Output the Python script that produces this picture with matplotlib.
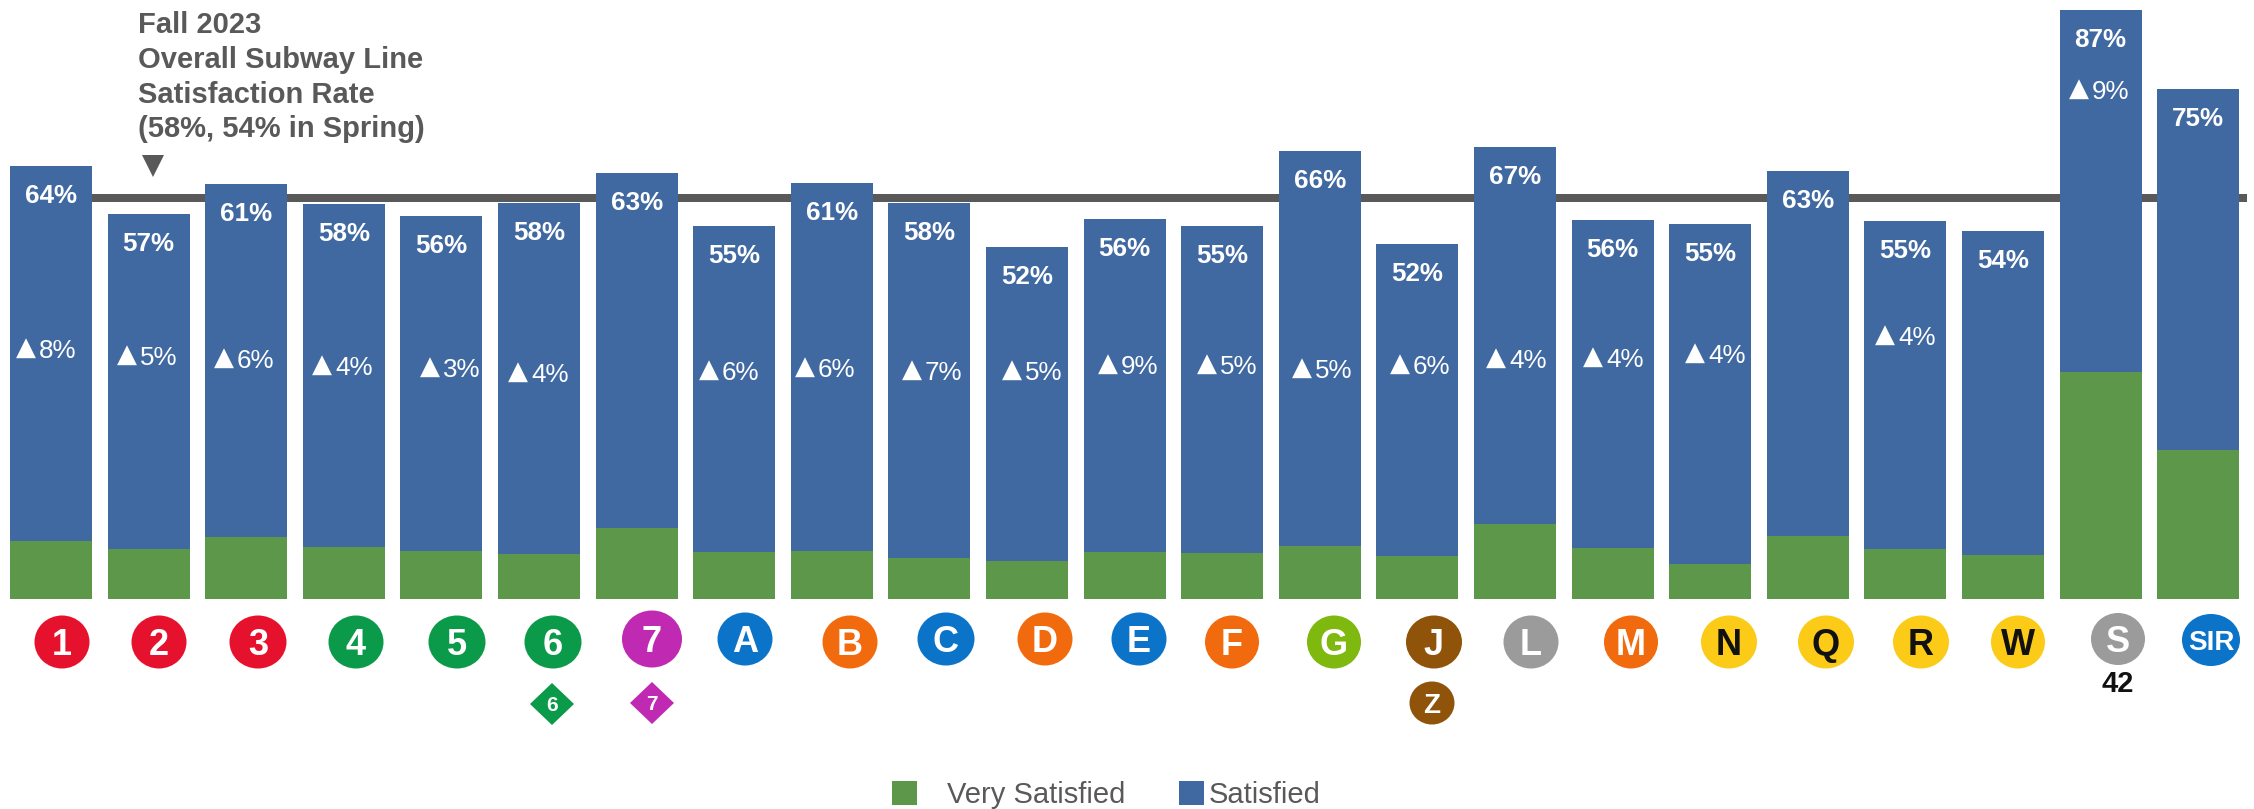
import matplotlib
matplotlib.use("Agg")
import matplotlib.pyplot as plt
from matplotlib.patches import Ellipse, Polygon
import numpy as np

plt.rcParams['font.family'] = ['Liberation Sans', 'DejaVu Sans']

# ---- data ----
lines = ['1','2','3','4','5','6','7','A','B','C','D','E','F','G','J','L','M','N','Q','R','W','S','SIR']
very_satisfied = [8.6,7.4,9.2,7.7,7.1,6.6,10.5,6.9,7.1,6.1,5.6,6.9,6.8,7.8,6.4,11.1,7.5,5.2,9.3,7.4,6.5,33.5,22.0]
total_height = [64.0,56.9,61.3,58.3,56.6,58.5,62.9,55.1,61.5,58.5,52.0,56.2,55.1,66.2,52.4,66.8,56.0,55.4,63.2,55.8,54.3,87.0,75.3]
satisfied = [round(t - v, 1) for t, v in zip(total_height, very_satisfied)]
total_labels = ['64%','57%','61%','58%','56%','58%','63%','55%','61%','58%','52%','56%','55%','66%','52%','67%','56%','55%','63%','55%','54%','87%','75%']
delta_labels = ['8%','5%','6%','4%','3%','4%',None,'6%','6%','7%','5%','9%','5%','5%','6%','4%','4%','4%',None,'4%',None,'9%',None]
overall_rate = 59.2
title_lines = ['Fall 2023', 'Overall Subway Line', 'Satisfaction Rate', '(58%, 54% in Spring)']

# ---- layout (pixels of the 2254x809 canvas) ----
W, H = 2254, 809
delta_x = [46,147,244,342,450,538,None,729,825,932,1032,1128,1227,1322,1420,1516,1613,1715,None,1905,None,2099,None]
delta_y = [349,356,359,366,368,373,None,371,368,371,371,365,365,369,365,359,358,354,None,336,None,90,None]
icon_x = [62,159,258,356,457,553,652,745,850,946,1045,1139,1232,1334,1434,1531,1631,1729,1826,1921,2018,2118,2211]
icon_y = [642,642,642,642,642,642,639,639,642,639,639,639,642,642,642,642,642,642,642,642,642,639,640]
icon_w = [55,55,57,55,57,57,60,55,55,57,55,55,54,54,56,55,54,56,56,56,54,54,58]
icon_h = [53,53,53,53,53,53,57,53,53,53,53,53,53,53,53,53,53,53,53,53,53,52,52]
RED, GRN, PUR, BLU, ORG, LIM, BRN, GRY, YEL = '#E6122D','#0A9A49','#C02AB2','#0B74C9','#F26A0E','#7FB80E','#8F5409','#9B9B9B','#FBCB17'
icon_col = [RED,RED,RED,GRN,GRN,GRN,PUR,BLU,ORG,BLU,ORG,BLU,ORG,LIM,BRN,GRY,ORG,YEL,YEL,YEL,YEL,GRY,BLU]
icon_txt = ['w']*17 + ['#111111']*4 + ['w','w']

BLUE, GREEN, GREY = '#4069A2', '#5D9749', '#595959'

fig = plt.figure(figsize=(W/100, H/100), dpi=100, facecolor='white')

# main chart axes: 97.6 px per category, 6.77 px per percent, baseline at y=599
ax = fig.add_axes([0, 0, 1, 1])
PX_X, X0, PX_Y, Y0 = 97.6, 51, 6.77, 599
ax.set_xlim((0 - X0)/PX_X, (W - X0)/PX_X)
ax.set_ylim((Y0 - H)/PX_Y, Y0/PX_Y)
ax.axis('off')

x = np.arange(len(lines))
ax.plot([-0.42, 22.5], [overall_rate]*2, color=GREY, lw=8*0.72, solid_capstyle='butt', zorder=1)
b1 = ax.bar(x, very_satisfied, width=0.84, color=GREEN, label='Very Satisfied', zorder=2)
b2 = ax.bar(x, satisfied, width=0.84, bottom=very_satisfied, color=BLUE, label='Satisfied', zorder=2)

for xi, t, lab in zip(x, total_height, total_labels):
    ax.annotate(lab, (xi, t), xytext=(0, -37), textcoords='offset pixels', ha='center', va='baseline',
                color='white', fontsize=18.7, fontweight='bold', zorder=3)

# legends, one per entry because their gaps differ
leg1 = ax.legend(handles=[b1], loc='center left', bbox_to_anchor=(892/W, 1 - 795/H), frameon=False,
                 fontsize=21, borderpad=0, borderaxespad=0, handlelength=0.86, handleheight=0.86,
                 handletextpad=1.03, labelcolor=GREY)
ax.add_artist(leg1)
ax.legend(handles=[b2], loc='center left', bbox_to_anchor=(1179/W, 1 - 795/H), frameon=False,
          fontsize=21, borderpad=0, borderaxespad=0, handlelength=0.86, handleheight=0.86,
          handletextpad=0.16, labelcolor=GREY)

# overlay in canvas pixels for annotations and line bullets
ov = fig.add_axes([0, 0, 1, 1], facecolor='none')
ov.set_xlim(0, W); ov.set_ylim(H, 0); ov.axis('off')

for dx, dy, lab in zip(delta_x, delta_y, delta_labels):
    if lab is not None:
        ov.text(dx - 7, dy + 9, lab, ha='left', va='baseline', color='white', fontsize=18.7, zorder=3)
        ov.text(dx - 10, dy + 6, '\u25B2', ha='right', va='baseline', color='white', fontsize=18.7,
                family='DejaVu Sans', zorder=3)

for ty, line in zip([23, 58, 93, 127], title_lines):
    ov.text(137.5, ty + 10, line, ha='left', va='baseline', color=GREY, fontsize=21, fontweight='bold')
ov.plot([153], [166], marker='v', ms=16, color=GREY, mew=0)

def bullet_text(cx, cy, s, col, size, weight='bold'):
    ov.text(cx, cy + size*100/72*0.358, s, ha='center', va='baseline', color=col, fontsize=size, fontweight=weight, zorder=6)

for name, cx, cy, w, h, c, tc in zip(lines, icon_x, icon_y, icon_w, icon_h, icon_col, icon_txt):
    ov.add_patch(Ellipse((cx, cy), w, h, fc=c, ec='none', zorder=5))
    bullet_text(cx, cy, name, tc, 20 if name == 'SIR' else 26)

# secondary bullets
ov.add_patch(Ellipse((1432, 703), 45, 43, fc=icon_col[14], ec='none', zorder=5))
bullet_text(1432, 703, 'Z', 'w', 20)
for cx, cy, s, c in [(552, 704, '6', GRN), (652, 703, '7', PUR)]:
    ov.add_patch(Polygon([(cx-22, cy), (cx, cy-21), (cx+22, cy), (cx, cy+21)], fc=c, ec='none', zorder=5))
    bullet_text(cx, cy, s, 'w', 15)
bullet_text(2118, 682, '42', '#111111', 21)

fig.savefig('out.png', dpi=100)
